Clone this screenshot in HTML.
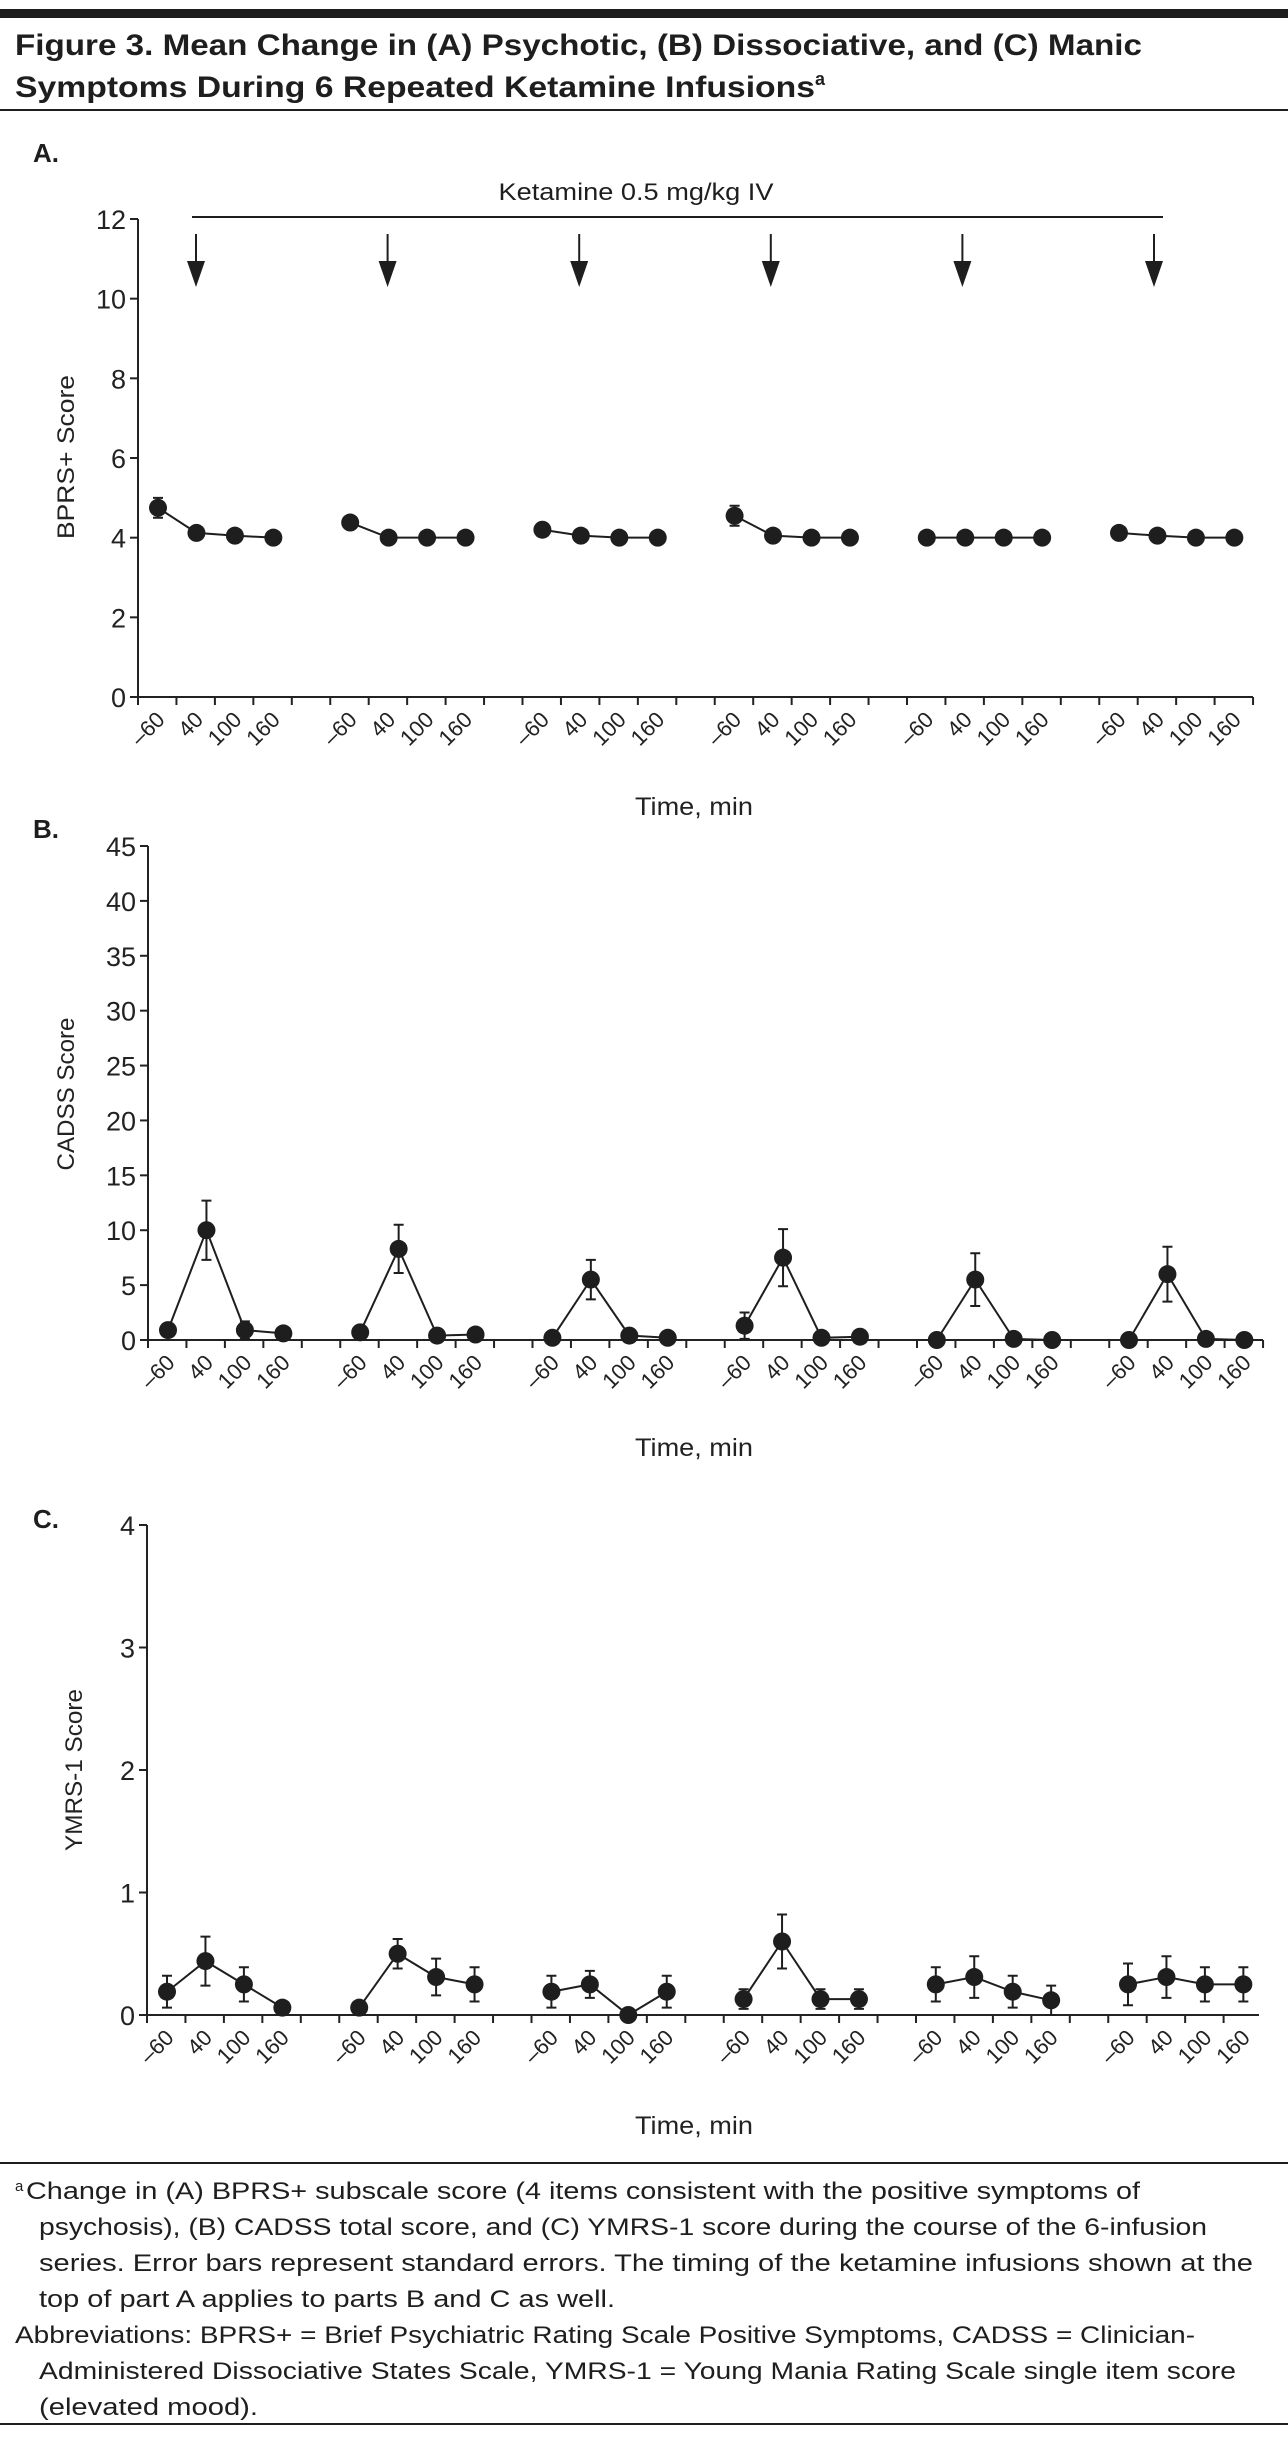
<!DOCTYPE html>
<html><head><meta charset="utf-8"><style>
html,body{margin:0;padding:0;background:#fff;}
svg{display:block;font-family:"Liberation Sans",sans-serif;}
</style></head><body>
<svg id="fig" width="1288" height="2438" viewBox="0 0 1288 2438" xmlns="http://www.w3.org/2000/svg">
<rect x="0" y="9" width="1288" height="9" fill="#1e1e1e"/>
<text x="15" y="55" font-size="30" font-weight="bold" fill="#1e1e1e" textLength="1127" lengthAdjust="spacingAndGlyphs">Figure 3. Mean Change in (A) Psychotic, (B) Dissociative, and (C) Manic</text>
<text x="15" y="97" font-size="30" font-weight="bold" fill="#1e1e1e"><tspan textLength="800" lengthAdjust="spacingAndGlyphs">Symptoms During 6 Repeated Ketamine Infusions</tspan><tspan font-size="18" dy="-12">a</tspan></text>
<rect x="0" y="109" width="1288" height="2" fill="#1e1e1e"/>
<text x="33" y="162" font-size="26" font-weight="bold" fill="#1e1e1e">A.</text>
<text x="33" y="838" font-size="26" font-weight="bold" fill="#1e1e1e">B.</text>
<text x="33" y="1528" font-size="26" font-weight="bold" fill="#1e1e1e">C.</text>
<text x="636" y="200" font-size="24" fill="#1e1e1e" text-anchor="middle" textLength="275" lengthAdjust="spacingAndGlyphs">Ketamine 0.5 mg/kg IV</text>
<line x1="192" y1="217" x2="1163" y2="217" stroke="#1e1e1e" stroke-width="2"/>
<g id="arrows"></g>
<g id="panels"></g>
<rect x="0" y="2162" width="1288" height="2" fill="#1e1e1e"/>
<g font-size="24" fill="#1e1e1e">
<text x="15" y="2191" font-size="15">a</text>
<text x="26" y="2199" textLength="1114" lengthAdjust="spacingAndGlyphs">Change in (A) BPRS+ subscale score (4 items consistent with the positive symptoms of</text>
<text x="39" y="2235" textLength="1168" lengthAdjust="spacingAndGlyphs">psychosis), (B) CADSS total score, and (C) YMRS-1 score during the course of the 6-infusion</text>
<text x="39" y="2271" textLength="1214" lengthAdjust="spacingAndGlyphs">series. Error bars represent standard errors. The timing of the ketamine infusions shown at the</text>
<text x="39" y="2307" textLength="576" lengthAdjust="spacingAndGlyphs">top of part A applies to parts B and C as well.</text>
<text x="15" y="2343" textLength="1180" lengthAdjust="spacingAndGlyphs">Abbreviations: BPRS+ = Brief Psychiatric Rating Scale Positive Symptoms, CADSS = Clinician-</text>
<text x="39" y="2379" textLength="1197" lengthAdjust="spacingAndGlyphs">Administered Dissociative States Scale, YMRS-1 = Young Mania Rating Scale single item score</text>
<text x="39" y="2415" textLength="219" lengthAdjust="spacingAndGlyphs">(elevated mood).</text>
</g>
<rect x="0" y="2423" width="1288" height="2" fill="#1e1e1e"/>
</svg>
<script>
const timeLabels = ["\u201360", "40", "100", "160"];
const infusions = [1, 2, 3, 4, 5, 6];
const bprsMeans = [[4.75,4.12,4.05,4.0],[4.38,4.0,4.0,4.0],[4.2,4.05,4.0,4.0],[4.55,4.05,4.0,4.0],[4.0,4.0,4.0,4.0],[4.12,4.05,4.0,4.0]];
const bprsErr = [[0.25,0.05,0.05,0],[0.15,0,0,0],[0.08,0.05,0,0],[0.25,0.05,0,0],[0,0,0,0],[0.08,0.05,0,0]];
const bprsTicks = [0, 2, 4, 6, 8, 10, 12];
const cadssMeans = [[0.9,10,0.9,0.6],[0.7,8.3,0.4,0.5],[0.2,5.5,0.4,0.2],[1.3,7.5,0.2,0.3],[0,5.5,0.1,0],[0,6,0.1,0]];
const cadssErr = [[0,2.7,0.8,0],[0,2.2,0,0],[0,1.8,0,0],[1.2,2.6,0,0],[0,2.4,0,0],[0,2.5,0,0]];
const cadssTicks = [0, 5, 10, 15, 20, 25, 30, 35, 40, 45];
const ymrsMeans = [[0.19,0.44,0.25,0.06],[0.06,0.5,0.31,0.25],[0.19,0.25,0.0,0.19],[0.13,0.6,0.13,0.13],[0.25,0.31,0.19,0.12],[0.25,0.31,0.25,0.25]];
const ymrsErr = [[0.13,0.2,0.14,0],[0,0.12,0.15,0.14],[0.13,0.11,0,0.13],[0.08,0.22,0.08,0.08],[0.14,0.17,0.13,0.12],[0.17,0.17,0.14,0.14]];
const ymrsTicks = [0, 1, 2, 3, 4];

const NS = "http://www.w3.org/2000/svg";
function mk(parent, tag, attrs) {
  const e = document.createElementNS(NS, tag);
  for (const k in attrs) e.setAttribute(k, attrs[k]);
  parent.appendChild(e);
  return e;
}
const panelsG = document.getElementById("panels");

function drawPanel(cfg, means, errs, ticks) {
  const g = mk(panelsG, "g", {});
  
  
  const ymax = ticks[ticks.length - 1];
  const yS = v => cfg.y0 + (cfg.yTop - cfg.y0) * v / ymax;
  const xS = (gi, i) => cfg.px0 + gi * 192.2 + i * 38.45;
  const ya = mk(g, "line", {x1: cfg.ax, y1: cfg.yTop, x2: cfg.ax, y2: cfg.y0, stroke: "#222", "stroke-width": 2});
  
  
  const xa = mk(g, "line", {x1: cfg.ax, y1: cfg.y0, x2: cfg.axEnd, y2: cfg.y0, stroke: "#222", "stroke-width": 2});
  
  
  ticks.forEach(t => {
    const y = yS(t);
    mk(g, "line", {x1: cfg.ax - 8, y1: y, x2: cfg.ax, y2: y, stroke: "#222", "stroke-width": 2});
    const tl = mk(g, "text", {x: cfg.ax - 12, y: y + 10, "font-size": 27, "text-anchor": "end", fill: "#222"});
    
    
    tl.textContent = t;
  });
  for (let x = cfg.ax; x <= cfg.axEnd + 1; x += 38.45) {
    mk(g, "line", {x1: x, y1: cfg.y0, x2: x, y2: cfg.y0 + 8, stroke: "#222", "stroke-width": 2});
  }
  infusions.forEach((inf, gi) => {
    timeLabels.forEach((lab, i) => {
      const px = xS(gi, i) + 8, py = cfg.y0 + 24;
      const t = mk(g, "text", {x: px, y: py, "font-size": 22, "text-anchor": "end", fill: "#222", transform: `rotate(-45 ${px} ${py})`});
      
      
      t.textContent = lab;
    });
    const pts = means[gi].map((v, i) => xS(gi, i) + "," + yS(v)).join(" ");
    const pl = mk(g, "polyline", {points: pts, fill: "none", stroke: "#1e1e1e", "stroke-width": 2});
    
    
    means[gi].forEach((v, i) => {
      const x = xS(gi, i), e = errs[gi][i];
      if (e > 0) {
        const eb = mk(g, "path", {d: `M${x},${yS(v - e)}V${yS(v + e)}M${x - 5},${yS(v + e)}H${x + 5}M${x - 5},${yS(v - e)}H${x + 5}`, stroke: "#1e1e1e", "stroke-width": 2, fill: "none"});
        
        
      }
      const c = mk(g, "circle", {cx: x, cy: yS(v), r: 9, fill: "#1e1e1e"});
      
      
    });
  });
  const yt = mk(g, "text", {x: cfg.ylx, y: cfg.yly, "font-size": 24, "text-anchor": "middle", fill: "#222", textLength: cfg.ylen, lengthAdjust: "spacingAndGlyphs", transform: `rotate(-90 ${cfg.ylx} ${cfg.yly})`});
  
  
  yt.textContent = cfg.ylabel;
  const xt = mk(g, "text", {x: 694, y: cfg.xly, "font-size": 25, "text-anchor": "middle", fill: "#222", textLength: 118, lengthAdjust: "spacingAndGlyphs"});
  
  
  xt.textContent = "Time, min";
}

drawPanel({name: "panel-a-bprs", ax: 138, axEnd: 1253, y0: 697, yTop: 219, px0: 158, ylx: 74, yly: 457, ylen: 164, ylabel: "BPRS+ Score", xly: 815}, bprsMeans, bprsErr, bprsTicks);
drawPanel({name: "panel-b-cadss", ax: 148, axEnd: 1263, y0: 1340, yTop: 846, px0: 168, ylx: 74, yly: 1094, ylen: 153, ylabel: "CADSS Score", xly: 1456}, cadssMeans, cadssErr, cadssTicks);
drawPanel({name: "panel-c-ymrs", ax: 147, axEnd: 1259, y0: 2015, yTop: 1525, px0: 167, ylx: 82, yly: 1770, ylen: 162, ylabel: "YMRS-1 Score", xly: 2134}, ymrsMeans, ymrsErr, ymrsTicks);

const arrowsG = document.getElementById("arrows");
infusions.forEach((inf, gi) => {
  const x = 196 + gi * 191.6;
  const a = mk(arrowsG, "g", {});
  
  
  mk(a, "line", {x1: x, y1: 234, x2: x, y2: 268, stroke: "#1e1e1e", "stroke-width": 2});
  mk(a, "polygon", {points: `${x - 9},261 ${x + 9},261 ${x},287`, fill: "#1e1e1e"});
});
</script>
</body></html>
